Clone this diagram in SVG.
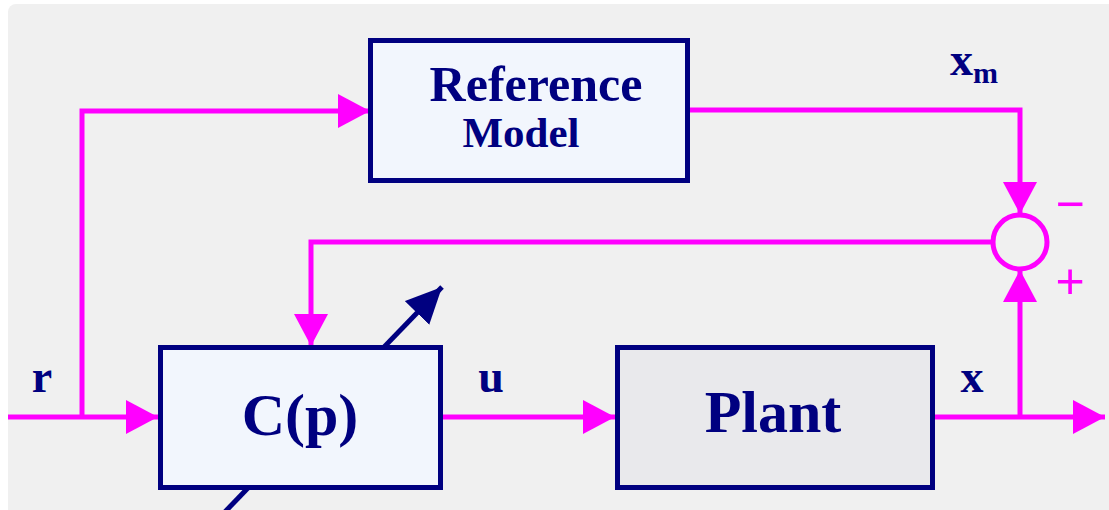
<svg xmlns="http://www.w3.org/2000/svg" width="1109" height="510" viewBox="0 0 1109 510">
  <style>
    .block { stroke: #000080; stroke-width: 5; }
    .ctrl { fill: #f2f6fd; }
    .plant { fill: #e9e9ec; }
    .label { font-family: "Liberation Serif", "Times New Roman", serif; font-weight: bold; fill: #000080; }
    .sig { fill: none; stroke: #ff00ff; stroke-width: 5; }
    .sign { font-family: "Liberation Sans", Arial, sans-serif; fill: #ff00ff; text-anchor: middle; }
  </style>
  <defs>
    <marker id="arrowMag" markerUnits="userSpaceOnUse" markerWidth="34" markerHeight="36" refX="32" refY="17" orient="auto">
      <path d="M0,0 L32,17 L0,34 Z" fill="#ff00ff"/>
    </marker>
    <marker id="arrowNavy" markerUnits="userSpaceOnUse" markerWidth="38" markerHeight="36" refX="36" refY="17" orient="auto">
      <path d="M0,0 L36,17 L0,34 Z" fill="#000080"/>
    </marker>
  </defs>

  <!-- panel background -->
  <rect x="0" y="0" width="1109" height="510" fill="#ffffff"/>
  <rect x="8" y="4" width="1110" height="520" rx="8" fill="#f0f0f0"/>

  <!-- adjustment arrow through the controller (drawn beneath the block) -->
  <g id="adjust">
    <line x1="220" y1="517" x2="442" y2="287" stroke="#000080" stroke-width="5" marker-end="url(#arrowNavy)"/>
  </g>

  <g id="connectors">
    <!-- r input to controller -->
    <path class="sig" d="M8,417 H158" marker-end="url(#arrowMag)"/>
    <!-- r branch to reference model -->
    <path class="sig" d="M82,417 V111 H370" marker-end="url(#arrowMag)"/>
    <!-- u: controller to plant -->
    <path class="sig" d="M443,417 H615" marker-end="url(#arrowMag)"/>
    <!-- x output -->
    <path class="sig" d="M935,417 H1105" marker-end="url(#arrowMag)"/>
    <!-- x feedback to summing junction -->
    <path class="sig" d="M1020,417 V270" marker-end="url(#arrowMag)"/>
    <!-- xm to summing junction -->
    <path class="sig" d="M690,110 H1020 V214" marker-end="url(#arrowMag)"/>
    <!-- error back to controller -->
    <path class="sig" d="M993,242 H311 V346" marker-end="url(#arrowMag)"/>
  </g>

  <g id="sum">
    <circle cx="1020" cy="242" r="27" class="sig"/>
    <text class="sign" x="1070" y="221" font-size="50">−</text>
    <text class="sign" x="1070" y="298" font-size="50">+</text>
  </g>

  <g id="reference-model">
    <rect x="370.5" y="40.5" width="317" height="140" class="block ctrl"/>
    <text class="label" x="536" y="101" font-size="50" text-anchor="middle">Reference</text>
    <text class="label" x="521" y="147" font-size="43" text-anchor="middle">Model</text>
  </g>

  <g id="controller">
    <rect x="160.5" y="347.5" width="280" height="140" class="block ctrl"/>
    <text class="label" x="300" y="435" font-size="60" text-anchor="middle">C(p)</text>
  </g>

  <g id="plant">
    <rect x="617.5" y="347.5" width="315" height="140" class="block plant"/>
    <text class="label" x="773" y="432" font-size="60" text-anchor="middle">Plant</text>
  </g>

  <g id="signal-labels">
    <text class="label" x="42" y="392" font-size="46" text-anchor="middle">r</text>
    <text class="label" x="491" y="392" font-size="46" text-anchor="middle">u</text>
    <text class="label" x="972" y="392" font-size="46" text-anchor="middle">x</text>
    <text class="label" x="950" y="75" font-size="46">x<tspan font-size="30" dy="8">m</tspan></text>
  </g>
</svg>
